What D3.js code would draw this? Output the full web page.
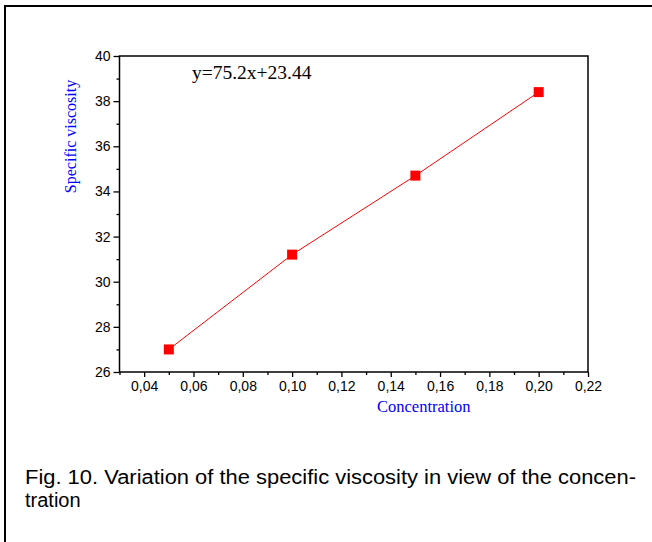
<!DOCTYPE html>
<html>
<head>
<meta charset="utf-8">
<script src="https://cdn.jsdelivr.net/npm/d3@7"></script>
<style>
  html, body { margin: 0; padding: 0; background: #fff; }
  svg { display: block; }
</style>
</head>
<body>
<svg id="chart" width="652" height="542"></svg>
<script>
// ---- data ----
const concentration = [0.05, 0.10, 0.15, 0.20];
const viscosity = [27.0, 31.2, 34.7, 38.4];
const xTicks = [0.04, 0.06, 0.08, 0.10, 0.12, 0.14, 0.16, 0.18, 0.20, 0.22];
const xMinorTicks = [0.03, 0.05, 0.07, 0.09, 0.11, 0.13, 0.15, 0.17, 0.19, 0.21];
const yTicks = [26, 28, 30, 32, 34, 36, 38, 40];
const yMinorTicks = [27, 29, 31, 33, 35, 37, 39];
const xDomain = [0.03, 0.22];
const yDomain = [26, 40];
const equation = "y=75.2x+23.44";
const xTitle = "Concentration";
const yTitle = "Specific viscosity";
const captionLines = ["Fig. 10. Variation of the specific viscosity in view of the concen-", "tration"];

(function () {
const svg = d3.select("#chart");

// outer frame (top & left)
svg.append("line").attr("x1", 5).attr("x2", 652).attr("y1", 6).attr("y2", 6)
  .attr("stroke", "#000").attr("stroke-width", 2);
svg.append("line").attr("x1", 5).attr("x2", 5).attr("y1", 5).attr("y2", 542)
  .attr("stroke", "#000").attr("stroke-width", 2);

const pL = 119.5, pR = 588, pT = 56, pB = 372;
const x = d3.scaleLinear().domain(xDomain).range([pL, pR]);
const y = d3.scaleLinear().domain(yDomain).range([pB, pT]);

const tickFont = "'Liberation Sans', Arial, sans-serif";
const serif = "'Liberation Serif', 'Times New Roman', serif";

// plot frame
svg.append("rect").attr("x", pL).attr("y", pT)
  .attr("width", pR - pL).attr("height", pB - pT)
  .attr("fill", "none").attr("stroke", "#000").attr("stroke-width", 1.5);

// y axis
const yAxis = svg.append("g").attr("transform", `translate(${pL},0)`)
  .call(d3.axisLeft(y).tickValues(yTicks).tickSize(6).tickPadding(3).tickFormat(d3.format("d")));
const yMinor = svg.append("g").attr("transform", `translate(${pL},0)`)
  .call(d3.axisLeft(y).tickValues(yMinorTicks).tickSize(3).tickFormat(""));

// x axis
const xAxis = svg.append("g").attr("transform", `translate(0,${pB})`)
  .call(d3.axisBottom(x).tickValues(xTicks).tickSize(5).tickPadding(4)
    .tickFormat(d => d.toFixed(2).replace(".", ",")));
const xMinor = svg.append("g").attr("transform", `translate(0,${pB})`)
  .call(d3.axisBottom(x).tickValues(xMinorTicks).tickSize(3).tickFormat(""));

[yAxis, yMinor, xAxis, xMinor].forEach(g => {
  g.select(".domain").remove();
  g.selectAll(".tick line").attr("stroke", "#000").attr("stroke-width", 1.3);
  g.selectAll("text").attr("font-family", tickFont).attr("font-size", 14).attr("fill", "#000");
});

// line
const line = d3.line().x((d, i) => x(concentration[i])).y(d => y(d));
svg.append("path").datum(viscosity).attr("d", line)
  .attr("fill", "none").attr("stroke", "#ff0000").attr("stroke-width", 1);

// markers
const ms = 10;
svg.selectAll("rect.pt").data(viscosity).enter().append("rect").attr("class", "pt")
  .attr("x", (d, i) => x(concentration[i]) - ms / 2)
  .attr("y", d => y(d) - ms / 2)
  .attr("width", ms).attr("height", ms)
  .attr("fill", "#ff0000");

// equation
svg.append("text").attr("x", 192).attr("y", 79)
  .attr("font-family", serif).attr("font-size", 19.5).attr("fill", "#000")
  .text(equation);

// axis titles
svg.append("text").attr("x", 377).attr("y", 412)
  .attr("font-family", serif).attr("font-size", 16.5).attr("fill", "#0000ff")
  .text(xTitle);
svg.append("text").attr("transform", "translate(76,136.5) rotate(-90)")
  .attr("text-anchor", "middle")
  .attr("font-family", serif).attr("font-size", 16).attr("fill", "#0000ff")
  .text(yTitle);

// caption
const capWidths = [611, null];
svg.selectAll("text.cap").data(captionLines).enter().append("text").attr("class", "cap")
  .attr("x", 25).attr("y", (d, i) => 484 + i * 23)
  .attr("font-family", tickFont).attr("font-size", 20).attr("fill", "#000")
  .each(function (d, i) {
    if (capWidths[i]) d3.select(this).attr("textLength", capWidths[i]).attr("lengthAdjust", "spacingAndGlyphs");
  })
  .text(d => d);
})();
</script>
</body>
</html>
